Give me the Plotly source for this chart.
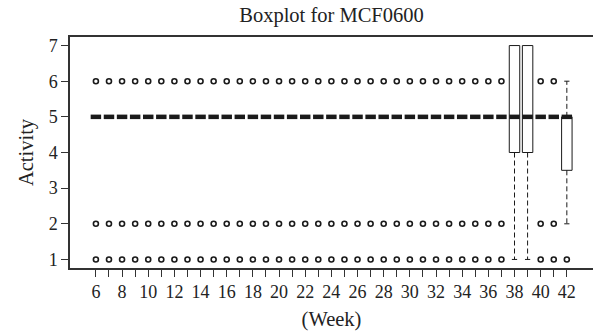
import plotly.graph_objects as go

# ---- data ----
weeks = [6, 7, 8, 9, 10, 11, 12, 13, 14, 15, 16, 17, 18, 19, 20, 21, 22, 23, 24,
         25, 26, 27, 28, 29, 30, 31, 32, 33, 34, 35, 36, 37, 38, 39, 40, 41, 42]
q1 = [5, 5, 5, 5, 5, 5, 5, 5, 5, 5, 5, 5, 5, 5, 5, 5, 5, 5, 5,
      5, 5, 5, 5, 5, 5, 5, 5, 5, 5, 5, 5, 5, 4, 4, 5, 5, 3.5]
median = [5, 5, 5, 5, 5, 5, 5, 5, 5, 5, 5, 5, 5, 5, 5, 5, 5, 5, 5,
          5, 5, 5, 5, 5, 5, 5, 5, 5, 5, 5, 5, 5, 5, 5, 5, 5, 5]
q3 = [5, 5, 5, 5, 5, 5, 5, 5, 5, 5, 5, 5, 5, 5, 5, 5, 5, 5, 5,
      5, 5, 5, 5, 5, 5, 5, 5, 5, 5, 5, 5, 5, 7, 7, 5, 5, 5]
whisker_low = [5, 5, 5, 5, 5, 5, 5, 5, 5, 5, 5, 5, 5, 5, 5, 5, 5, 5, 5,
               5, 5, 5, 5, 5, 5, 5, 5, 5, 5, 5, 5, 5, 1, 1, 5, 5, 2]
whisker_high = [5, 5, 5, 5, 5, 5, 5, 5, 5, 5, 5, 5, 5, 5, 5, 5, 5, 5, 5,
                5, 5, 5, 5, 5, 5, 5, 5, 5, 5, 5, 5, 5, 7, 7, 5, 5, 6]
outliers = [[1, 2, 6]] * 32 + [[], [], [1, 2, 6], [1, 2, 6], [1]]

x_tick_labels = [str(w) if w % 2 == 0 else "" for w in weeks]
y_ticks = [1, 2, 3, 4, 5, 6, 7]

# ---- build marks ----
BOXW = 0.4   # half box width (R boxwex 0.8)
STAPLE = 0.2  # half staple width

box_x, box_y = [], []
med_x, med_y = [], []
wh_x, wh_y = [], []
st_x, st_y = [], []
out_x, out_y = [], []

for i, w in enumerate(weeks):
    a, m, b = q1[i], median[i], q3[i]
    lo, hi = whisker_low[i], whisker_high[i]
    if b > a:
        box_x += [w - BOXW, w + BOXW, w + BOXW, w - BOXW, w - BOXW, None]
        box_y += [a, a, b, b, a, None]
    med_x += [w - BOXW, w + BOXW, None]
    med_y += [m, m, None]
    if lo < a:
        wh_x += [w, w, None]
        wh_y += [a, lo, None]
        st_x += [w - STAPLE, w + STAPLE, None]
        st_y += [lo, lo, None]
    if hi > b:
        wh_x += [w, w, None]
        wh_y += [b, hi, None]
        st_x += [w - STAPLE, w + STAPLE, None]
        st_y += [hi, hi, None]
    for o in outliers[i]:
        out_x.append(w)
        out_y.append(o)

ink = "#1a1a1a"
fig = go.Figure()
fig.add_trace(go.Scatter(x=wh_x, y=wh_y, mode="lines",
                         line=dict(color=ink, width=1, dash="5px,3px"),
                         hoverinfo="skip", showlegend=False))
fig.add_trace(go.Scatter(x=st_x, y=st_y, mode="lines",
                         line=dict(color=ink, width=1),
                         hoverinfo="skip", showlegend=False))
fig.add_trace(go.Scatter(x=box_x, y=box_y, mode="lines",
                         line=dict(color=ink, width=1),
                         hoverinfo="skip", showlegend=False))
fig.add_trace(go.Scatter(x=med_x, y=med_y, mode="lines",
                         line=dict(color=ink, width=4.5),
                         hoverinfo="skip", showlegend=False))
fig.add_trace(go.Scatter(x=out_x, y=out_y, mode="markers",
                         marker=dict(symbol="circle-open", size=5, color=ink,
                                     line=dict(width=1.6, color=ink)),
                         hoverinfo="skip", showlegend=False))

serif = "Liberation Serif, Times New Roman, serif"
fig.update_layout(
    width=593, height=336,
    margin=dict(l=70, r=0, t=37, b=68),
    paper_bgcolor="white", plot_bgcolor="white",
    font=dict(family=serif, color="#222222", size=18),
    title=dict(text="Boxplot for MCF0600", x=(70 + 593) / 2 / 593, xanchor="center",
               y=1 - 15 / 336, yanchor="middle", yref="container",
               font=dict(family=serif, size=20.5, color="#222222")),
    xaxis=dict(range=[4.02, 44.0], tickmode="array", tickvals=weeks,
               ticktext=x_tick_labels, ticks="outside", ticklen=7,
               tickcolor="#333333", tickwidth=1, showgrid=False, zeroline=False,
               showline=True, linecolor="#333333", linewidth=1.5, mirror=True,
               title=dict(text="(Week)", font=dict(size=20.5), standoff=10),
               tickfont=dict(size=18)),
    yaxis=dict(range=[0.76, 7.24], tickmode="array", tickvals=y_ticks,
               ticks="outside", ticklen=7, tickcolor="#333333", tickwidth=1,
               showgrid=False, zeroline=False, showline=True,
               linecolor="#333333", linewidth=1.5, mirror=False,
               title=dict(text="Activity", font=dict(size=20.5), standoff=9),
               tickfont=dict(size=18)),
)

fig.write_html("out.html")
